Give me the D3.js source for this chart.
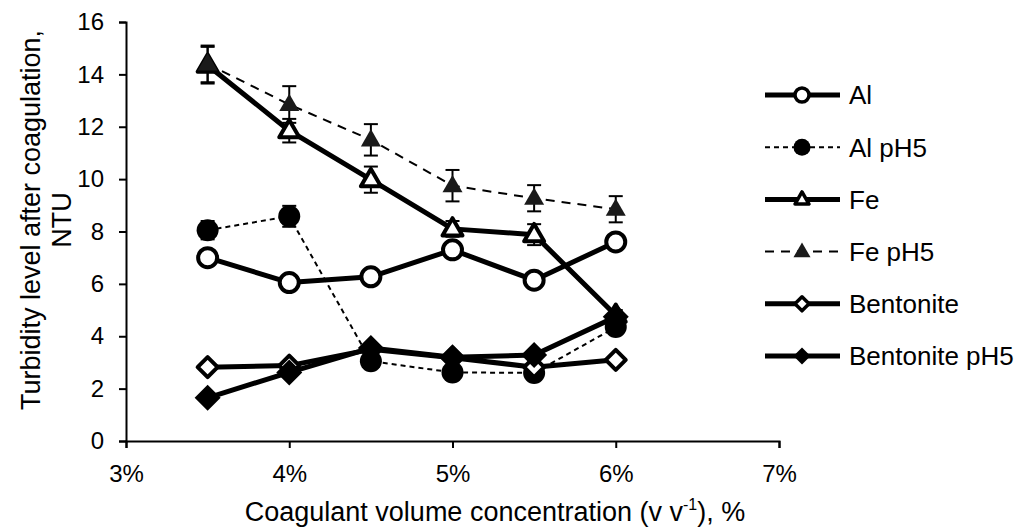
<!DOCTYPE html>
<meta charset="utf-8">
<style>
  body { margin: 0; background: #fff; }
  text { font-family: "Liberation Sans", Arial, sans-serif; fill: #000; }
</style>
<body>
<script src="https://d3js.org/d3.v7.min.js"></script>
<script>
// concentrations (%), one point per series at each
var conc = [3.5, 4, 4.5, 5, 5.5, 6];
var xTicks = [3, 4, 5, 6, 7];
var yTicks = [0, 2, 4, 6, 8, 10, 12, 14, 16];

var al        = [7.0, 6.05, 6.27, 7.3, 6.14, 7.6];
var alErr     = [0.2, 0.2, 0.2, 0.2, 0.2, 0.2];
var alPh5     = [8.05, 8.58, 3.05, 2.62, 2.6, 4.35];
var alPh5Err  = [0.35, 0.4, 0.2, 0.2, 0.2, 0.2];
var fe        = [14.35, 11.85, 9.98, 8.1, 7.88, 4.8];
var feErr     = [0.7, 0.45, 0.5, 0.3, 0.4, 0.2];
var fePh5     = [14.4, 12.85, 11.5, 9.75, 9.27, 8.85];
var fePh5Err  = [0.7, 0.7, 0.6, 0.6, 0.5, 0.5];
var bent      = [2.82, 2.88, 3.5, 3.18, 2.82, 3.1];
var bentPh5   = [1.65, 2.62, 3.55, 3.2, 3.28, 4.74];

var series = [
  {name: "Al",            vals: al,      err: alErr,    shape: "circle",   fill: "#fff",    dash: null,  lw: 5,   size: 11.5},
  {name: "Al pH5",        vals: alPh5,   err: alPh5Err, shape: "circle",   fill: "#000",    dash: "5,4", lw: 2,   size: 11},
  {name: "Fe",            vals: fe,      err: feErr,    shape: "triangle", fill: "#fff",    dash: null,  lw: 5,   size: 12},
  {name: "Fe pH5",        vals: fePh5,   err: fePh5Err, shape: "triangle", fill: "#1a1a1a", dash: "9,7", lw: 2,   size: 10},
  {name: "Bentonite",     vals: bent,    err: null,     shape: "diamond",  fill: "#fff",    dash: null,  lw: 5,   size: 12},
  {name: "Bentonite pH5", vals: bentPh5, err: null,     shape: "diamond",  fill: "#000",    dash: null,  lw: 5,   size: 13}
];

var W = 1019, H = 529;
var svg = d3.select("body").append("svg").attr("width", W).attr("height", H);

var x = d3.scaleLinear().domain([3, 7]).range([126, 779]);
var y = d3.scaleLinear().domain([0, 16]).range([441, 22]);

// axes
var xAxis = svg.append("g").attr("transform", "translate(0," + y(0) + ")")
  .call(d3.axisBottom(x).tickValues(xTicks).tickSize(7).tickPadding(17)
    .tickFormat(function(d) { return d + "%"; }));
var yAxis = svg.append("g").attr("transform", "translate(" + x(3) + ",0)")
  .call(d3.axisLeft(y).tickValues(yTicks).tickSize(7).tickPadding(15));
[xAxis, yAxis].forEach(function(a) {
  a.select(".domain").attr("stroke", "#000").attr("stroke-width", 2);
  a.selectAll(".tick line").attr("stroke", "#000").attr("stroke-width", 2);
  a.selectAll(".tick text").attr("font-size", 24).attr("fill", "#000")
    .style("font-family", "'Liberation Sans', Arial, sans-serif");
});

// marker path, r = half width
function marker(shape, r) {
  if (shape === "circle") return d3.arc()({innerRadius: 0, outerRadius: r, startAngle: 0, endAngle: 2 * Math.PI});
  if (shape === "triangle") {
    var h = r * 1.73;
    return "M0," + (-h * 0.62) + "L" + r + "," + (h * 0.38) + "L" + (-r) + "," + (h * 0.38) + "Z";
  }
  return "M0," + (-r) + "L" + r + ",0L0," + r + "L" + (-r) + ",0Z";
}

var line = d3.line().x(function(d) { return x(d[0]); }).y(function(d) { return y(d[1]); });

series.forEach(function(s) {
  var pts = conc.map(function(c, i) { return [c, s.vals[i], s.err ? s.err[i] : 0]; });
  var g = svg.append("g");
  // error bars
  if (s.err) {
    pts.forEach(function(p) {
      var xc = x(p[0]), y1 = y(p[1] + p[2]), y2 = y(p[1] - p[2]);
      g.append("line").attr("x1", xc).attr("x2", xc).attr("y1", y1).attr("y2", y2)
        .attr("stroke", "#000").attr("stroke-width", 2);
      [y1, y2].forEach(function(yy) {
        g.append("line").attr("x1", xc - 7).attr("x2", xc + 7).attr("y1", yy).attr("y2", yy)
          .attr("stroke", "#000").attr("stroke-width", 2);
      });
    });
  }
  g.append("path").datum(pts).attr("d", line)
    .attr("fill", "none").attr("stroke", "#000").attr("stroke-width", s.lw)
    .attr("stroke-linejoin", "round")
    .attr("stroke-dasharray", s.dash);
  var open = s.fill === "#fff";
  g.selectAll("path.m").data(pts).enter().append("path").attr("class", "m")
    .attr("d", marker(s.shape, open ? s.size - 2 : s.size))
    .attr("transform", function(d) { return "translate(" + x(d[0]) + "," + y(d[1]) + ")"; })
    .attr("fill", s.fill)
    .attr("stroke", open ? "#000" : "none")
    .attr("stroke-width", open ? 4 : 0)
    .attr("stroke-linejoin", "round");
});

// legend
var leg = svg.append("g");
series.forEach(function(s, i) {
  var yy = 95 + i * 52.2;
  var open = s.fill === "#fff";
  leg.append("line").attr("x1", 765).attr("x2", 840).attr("y1", yy).attr("y2", yy)
    .attr("stroke", "#000").attr("stroke-width", s.lw).attr("stroke-dasharray", s.dash);
  leg.append("path").attr("d", marker(s.shape, open ? 7 : 8.5))
    .attr("transform", "translate(802," + yy + ")")
    .attr("fill", s.fill).attr("stroke", open ? "#000" : "none")
    .attr("stroke-width", open ? 3.5 : 0).attr("stroke-linejoin", "round");
  leg.append("text").attr("x", 849).attr("y", yy).attr("dy", "0.36em")
    .attr("font-size", 26).text(s.name);
});

// axis titles
var xt = svg.append("text").attr("x", 495).attr("y", 521).attr("text-anchor", "middle")
  .attr("font-size", 27);
xt.append("tspan").text("Coagulant volume concentration (v v");
xt.append("tspan").attr("font-size", 16).attr("dy", -11).text("-1");
xt.append("tspan").attr("dy", 11).text("), %");

var yt = svg.append("text").attr("transform", "translate(40,220) rotate(-90)")
  .attr("text-anchor", "middle").attr("font-size", 27);
yt.append("tspan").attr("x", 0).attr("y", 0).text("Turbidity level after coagulation,");
yt.append("tspan").attr("x", 0).attr("y", 31).text("NTU");
</script>
